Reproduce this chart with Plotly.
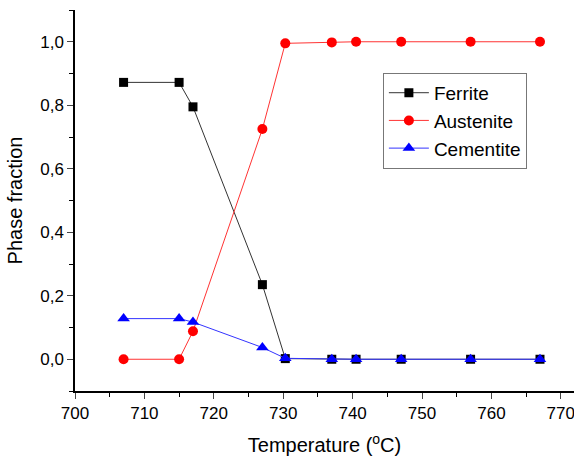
import plotly.graph_objects as go

temperature = [707, 715, 717, 727, 730.3, 737, 740.5, 747, 757, 767]
ferrite = [0.872, 0.872, 0.795, 0.235, 0.002, 0.0, 0.0, 0.0, 0.0, 0.0]
austenite = [0.0, 0.0, 0.088, 0.725, 0.995, 0.998, 1.0, 1.0, 1.0, 1.0]
cementite = [0.128, 0.128, 0.117, 0.037, 0.003, 0.0, 0.0, 0.0, 0.0, 0.0]

fig = go.Figure()
fig.add_trace(go.Scatter(x=temperature, y=ferrite, name="Ferrite", mode="lines+markers",
                         line=dict(color="#333333", width=1),
                         marker=dict(symbol="square", size=9, color="black")))
fig.add_trace(go.Scatter(x=temperature, y=austenite, name="Austenite", mode="lines+markers",
                         line=dict(color="#ff3333", width=1),
                         marker=dict(symbol="circle", size=10, color="red")))
fig.add_trace(go.Scatter(x=temperature, y=cementite, name="Cementite", mode="lines+markers",
                         line=dict(color="#3333ff", width=1),
                         marker=dict(symbol="triangle-up", size=11, color="blue")))

axis_font = dict(family="Liberation Sans, Arial, sans-serif", size=17, color="black")
fig.update_layout(
    width=574, height=456,
    margin=dict(l=75, r=0, t=10, b=65),
    plot_bgcolor="white", paper_bgcolor="white",
    separators=",.",
    font=axis_font,
    showlegend=True,
    legend=dict(x=0.617, y=0.835, xanchor="left", yanchor="top",
                bordercolor="#777777", borderwidth=1, bgcolor="white",
                font=dict(family="Liberation Sans, Arial, sans-serif", size=19, color="black"),
                tracegroupgap=0, itemwidth=40),
    xaxis=dict(range=[700, 771.9], tick0=700, dtick=10, ticks="outside", ticklen=6,
               tickwidth=1, showline=True, linecolor="black", linewidth=1.5,
               showgrid=False, zeroline=False, tickfont=axis_font, automargin=False,
               ticklabeloverflow="allow",
               minor=dict(dtick=5, ticks="outside", ticklen=4, tickcolor="black", showgrid=False),
               title=dict(text="Temperature (<sup>o</sup>C)", font=dict(size=20), standoff=17)),
    yaxis=dict(range=[-0.1, 1.1], tick0=0, dtick=0.2, tickformat=".1f", ticks="outside",
               ticklen=6, tickwidth=1, showline=True, linecolor="black", linewidth=1.5,
               showgrid=False, zeroline=False, tickfont=axis_font, automargin=False,
               minor=dict(dtick=0.1, ticks="outside", ticklen=4, tickcolor="black", showgrid=False),
               title=dict(text="Phase fraction", font=dict(size=20), standoff=12)),
)
fig.write_html("out.html", config={"displayModeBar": False},
               post_script="document.body.style.margin='0';document.body.style.overflow='hidden';")
